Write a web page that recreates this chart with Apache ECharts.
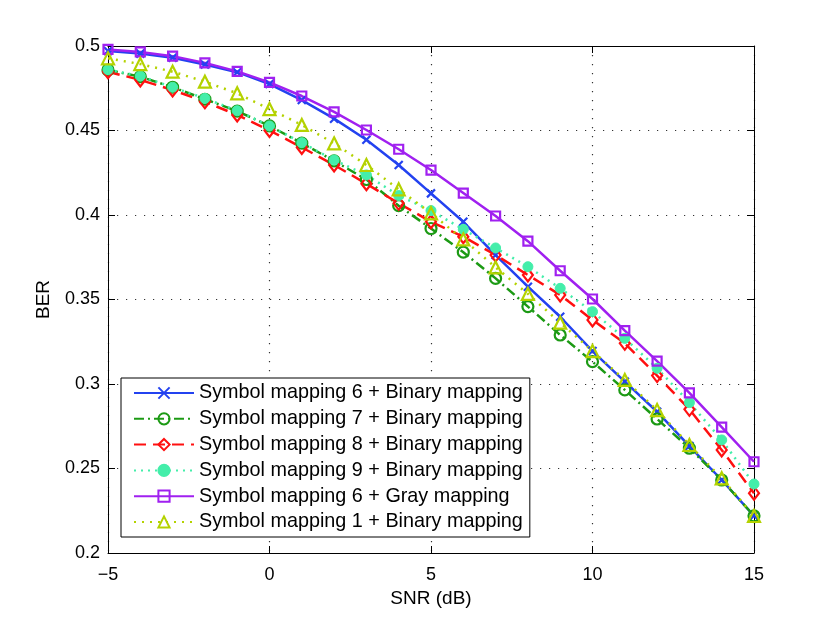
<!DOCTYPE html>
<html>
<head>
<meta charset="utf-8">
<title>BER vs SNR</title>
<script src="https://cdn.jsdelivr.net/npm/echarts@6/dist/echarts.min.js"></script>
<style>
  html, body { margin: 0; padding: 0; background: #fff; }
  #chart { width: 830px; height: 623px; }
</style>
</head>
<body>
<div id="chart"></div>
<script>
// SNR points (dB)
const snr = [-5, -4, -3, -2, -1, 0, 1, 2, 3, 4, 5, 6, 7, 8, 9, 10, 11, 12, 13, 14, 15];

const sm6Binary = [0.497, 0.4955, 0.493, 0.489, 0.4845, 0.4775, 0.468, 0.457, 0.4445, 0.4296, 0.4128,
  0.396, 0.3763, 0.3576, 0.3398, 0.3195, 0.3014, 0.2836, 0.2633, 0.2432, 0.222];
const sm7Binary = [0.4858, 0.4818, 0.4756, 0.4685, 0.4615, 0.4527, 0.4425, 0.432, 0.421, 0.4055, 0.392,
  0.378, 0.3625, 0.3458, 0.329, 0.3132, 0.2965, 0.2793, 0.262, 0.2432, 0.222];
const sm8Binary = [0.4848, 0.4799, 0.474, 0.467, 0.4592, 0.45, 0.44, 0.4296, 0.4185, 0.4069, 0.396,
  0.3872, 0.3763, 0.3645, 0.3527, 0.3379, 0.3241, 0.305, 0.285, 0.261, 0.2354];
const sm9Binary = [0.486, 0.4822, 0.4756, 0.469, 0.4617, 0.4527, 0.4428, 0.4325, 0.4237, 0.4115, 0.4026,
  0.3915, 0.3805, 0.3694, 0.3566, 0.3428, 0.327, 0.3093, 0.289, 0.2669, 0.2408];
const sm6Gray = [0.498, 0.4965, 0.494, 0.49, 0.485, 0.4785, 0.4704, 0.461, 0.4503, 0.4389, 0.4266,
  0.413, 0.3994, 0.3845, 0.367, 0.3503, 0.3316, 0.3135, 0.2947, 0.2745, 0.254];
const sm1Binary = [0.4927, 0.4893, 0.4848, 0.4789, 0.472, 0.4627, 0.4533, 0.4424, 0.4296, 0.4152, 0.401,
  0.3856, 0.369, 0.3533, 0.3363, 0.3195, 0.3024, 0.2846, 0.2639, 0.2442, 0.2219];

const seriesNames = [
  'Symbol mapping 6 + Binary mapping',
  'Symbol mapping 7 + Binary mapping',
  'Symbol mapping 8 + Binary mapping',
  'Symbol mapping 9 + Binary mapping',
  'Symbol mapping 6 + Gray mapping',
  'Symbol mapping 1 + Binary mapping'
];

const FONT = 'Liberation Sans, Arial, Helvetica, sans-serif';
const HOLLOW = 'rgba(255,255,255,0)';

function pairs(ys) {
  return snr.map((x, i) => [x, ys[i]]);
}

function makeSeries(name, ys, color, dash, symbol, size, filled) {
  return {
    name: name,
    type: 'line',
    data: pairs(ys),
    symbol: symbol,
    symbolSize: size,
    showAllSymbol: true,
    lineStyle: { color: color, width: 2.5, type: dash },
    itemStyle: filled
      ? { color: color, borderColor: color, borderWidth: 1 }
      : { color: HOLLOW, borderColor: color, borderWidth: 2.2 },
    emphasis: { disabled: true },
    z: 2
  };
}

const chart = echarts.init(document.getElementById('chart'), null, { renderer: 'canvas' });

const tickStyle = { show: true, inside: true, length: 7, lineStyle: { color: '#000', width: 1 } };
const frameLine = { show: true, onZero: false, lineStyle: { color: '#000', width: 1 } };
const gridDots = { show: true, lineStyle: { color: '#333', width: 1.2, type: [1.2, 7.8] } };

chart.setOption({
  animation: false,
  backgroundColor: '#fff',
  textStyle: { fontFamily: FONT },
  grid: { left: 108, right: 76, top: 46, bottom: 70, containLabel: false },
  legend: {
    data: seriesNames,
    orient: 'vertical',
    left: 121,
    top: 378,
    itemWidth: 60,
    itemHeight: 14,
    itemGap: 5.8,
    padding: [5, 7, 5, 12],
    backgroundColor: '#fff',
    borderColor: '#000',
    borderWidth: 1,
    borderRadius: 0,
    selectedMode: false,
    textStyle: { fontFamily: FONT, fontSize: 19.8, color: '#000', lineHeight: 20 }
  },
  xAxis: [
    {
      type: 'value',
      min: -5,
      max: 15,
      interval: 5,
      name: 'SNR (dB)',
      nameLocation: 'middle',
      nameGap: 34,
      nameTextStyle: { fontFamily: FONT, fontSize: 19, color: '#000' },
      axisLine: frameLine,
      axisTick: tickStyle,
      axisLabel: {
        fontFamily: FONT, fontSize: 18, color: '#000', margin: 13,
        formatter: v => (v < 0 ? '\u2212' + Math.abs(v) : String(v))
      },
      splitLine: gridDots
    },
    {
      type: 'value',
      position: 'top',
      min: -5,
      max: 15,
      interval: 5,
      axisLine: frameLine,
      axisTick: tickStyle,
      axisLabel: { show: false },
      splitLine: { show: false }
    }
  ],
  yAxis: [
    {
      type: 'value',
      min: 0.2,
      max: 0.5,
      interval: 0.05,
      name: 'BER',
      nameLocation: 'middle',
      nameGap: 55,
      nameTextStyle: { fontFamily: FONT, fontSize: 19, color: '#000' },
      axisLine: frameLine,
      axisTick: tickStyle,
      axisLabel: {
        fontFamily: FONT, fontSize: 18, color: '#000', margin: 8,
        formatter: v => String(Math.round(v * 100) / 100)
      },
      splitLine: gridDots
    },
    {
      type: 'value',
      position: 'right',
      min: 0.2,
      max: 0.5,
      interval: 0.05,
      axisLine: frameLine,
      axisTick: tickStyle,
      axisLabel: { show: false },
      splitLine: { show: false }
    }
  ],
  series: [
    makeSeries(seriesNames[0], sm6Binary, '#2342f0', 'solid', 'path://M0,0L10,10M10,0L0,10', 8, false),
    makeSeries(seriesNames[1], sm7Binary, '#1c9a14', [10, 4, 2, 4], 'circle', 11, false),
    makeSeries(seriesNames[2], sm8Binary, '#ff1010', [12, 7], 'diamond', [10, 13], false),
    makeSeries(seriesNames[3], sm9Binary, '#44eeaa', [2, 5], 'circle', 10, true),
    makeSeries(seriesNames[4], sm6Gray, '#a020f0', 'solid', 'rect', 9, false),
    makeSeries(seriesNames[5], sm1Binary, '#b4d200', [2, 6], 'triangle', 12, false)
  ]
});
</script>
</body>
</html>
